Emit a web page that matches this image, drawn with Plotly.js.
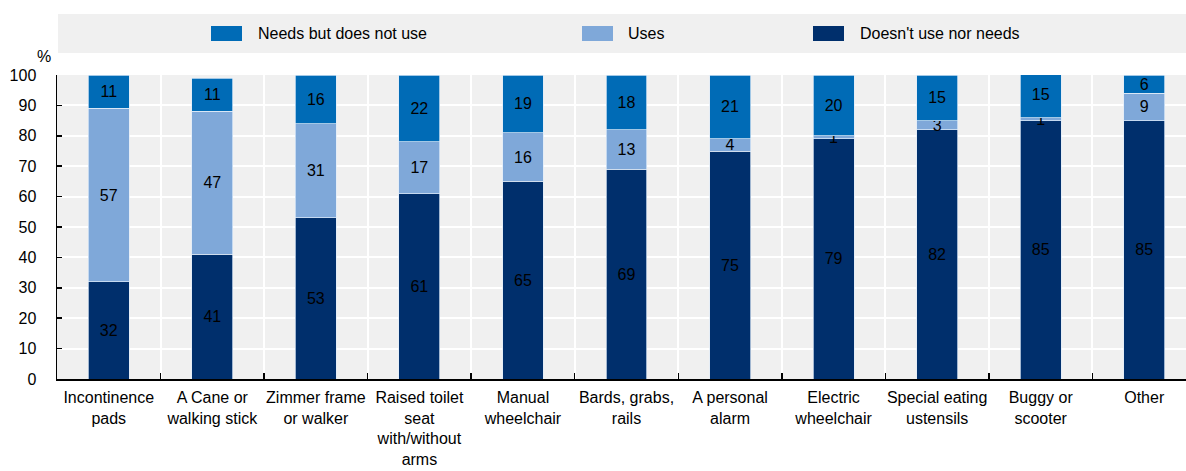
<!DOCTYPE html>
<html>
<head>
<meta charset="utf-8">
<script src="https://cdn.plot.ly/plotly-3.0.1.min.js"></script>
<style>
  html, body { margin: 0; padding: 0; background: #fff; overflow: hidden; }
  #chart { width: 1196px; height: 471px; }
</style>
</head>
<body>
<div id="chart"></div>
<script>
// Assistive devices: share of respondents (%)
const categories = [
  "Incontinence<br>pads",
  "A Cane or<br>walking stick",
  "Zimmer frame<br>or walker",
  "Raised toilet<br>seat<br>with/without<br>arms",
  "Manual<br>wheelchair",
  "Bards, grabs,<br>rails",
  "A personal<br>alarm",
  "Electric<br>wheelchair",
  "Special eating<br>ustensils",
  "Buggy or<br>scooter",
  "Other"
];
const doesntUseNorNeeds = [32, 41, 53, 61, 65, 69, 75, 79, 82, 85, 85];
const uses              = [57, 47, 31, 17, 16, 13, 4, 1, 3, 1, 9];
const needsNotUse       = [11, 11, 16, 22, 19, 18, 21, 20, 15, 15, 6];

const seriesNames = ["Needs but does not use", "Uses", "Doesn't use nor needs"];
const yTicks = [0, 10, 20, 30, 40, 50, 60, 70, 80, 90, 100];

const FONT = "'Liberation Sans', Arial, sans-serif";
const colors = {
  needs: "#006BB6",
  uses: "#7FA8D9",
  doesnt: "#002F6C",
  panel: "#F0F0F0"
};

// plot area geometry (px)
const W = 1196, H = 471;
const M = { l: 57, r: 0, t: 75, b: 92 };
const plotW = W - M.l - M.r, plotH = H - M.t - M.b;
const px2x = px => (px - M.l) / plotW;
const px2y = py => (H - M.b - py) / plotH;

function barTrace(name, values, color) {
  return {
    type: "bar",
    name: name,
    x: categories,
    y: values,
    text: values.map(String),
    texttemplate: "%{text}",
    textposition: "inside",
    insidetextanchor: "middle",
    textangle: 0,
    textfont: { family: FONT, size: 16, color: "#000" },
    marker: { color: color, line: { color: "rgba(225,235,248,0.9)", width: 0.8 } },
    hoverinfo: "x+y+name",
    showlegend: false
  };
}

const data = [
  barTrace(seriesNames[2], doesntUseNorNeeds, colors.doesnt),
  barTrace(seriesNames[1], uses, colors.uses),
  barTrace(seriesNames[0], needsNotUse, colors.needs)
];

// legend band drawn as shapes + text
const legendItems = [
  { name: seriesNames[0], color: colors.needs, sx: 211, tx: 256 },
  { name: seriesNames[1], color: colors.uses, sx: 582, tx: 626 },
  { name: seriesNames[2], color: colors.doesnt, sx: 813, tx: 858 }
];

const shapes = [
  {
    type: "rect", xref: "paper", yref: "paper", layer: "below",
    x0: px2x(58), x1: 1, y0: px2y(53), y1: px2y(14),
    fillcolor: colors.panel, line: { width: 0 }
  }
];
const annotations = [
  {
    xref: "paper", yref: "paper", x: px2x(44), y: px2y(56),
    xanchor: "center", yanchor: "middle", text: "%", showarrow: false,
    font: { family: FONT, size: 16, color: "#000" }
  }
];
legendItems.forEach(it => {
  shapes.push({
    type: "rect", xref: "paper", yref: "paper",
    x0: px2x(it.sx), x1: px2x(it.sx + 31), y0: px2y(41), y1: px2y(26),
    fillcolor: it.color, line: { width: 0 }
  });
  annotations.push({
    xref: "paper", yref: "paper", x: px2x(it.tx), y: px2y(33.5),
    xanchor: "left", yanchor: "middle", text: it.name, showarrow: false,
    font: { family: FONT, size: 16, color: "#000" }
  });
});

const layout = {
  width: W, height: H,
  margin: M,
  barmode: "stack",
  bargap: 0.605,
  paper_bgcolor: "#fff",
  plot_bgcolor: colors.panel,
  font: { family: FONT, size: 16, color: "#000" },
  uniformtext: { mode: "show", minsize: 16 },
  xaxis: {
    type: "category",
    tickson: "boundaries",
    tickangle: 0,
    ticks: "inside",
    ticklen: 6,
    tickwidth: 1.5,
    tickcolor: "#000",
    ticklabelstandoff: 3,
    showgrid: true,
    gridcolor: "#fff",
    gridwidth: 2,
    showline: true,
    linecolor: "#000",
    linewidth: 1.5,
    tickfont: { family: FONT, size: 16, color: "#000" },
    fixedrange: true
  },
  yaxis: {
    range: [0, 100],
    tickvals: yTicks,
    ticktext: yTicks.map(String),
    ticks: "inside",
    ticklen: 5,
    tickwidth: 1.5,
    tickcolor: "#000",
    ticklabelstandoff: 16,
    showgrid: true,
    gridcolor: "#fff",
    gridwidth: 2,
    zeroline: false,
    showline: true,
    linecolor: "#000",
    linewidth: 1.5,
    tickfont: { family: FONT, size: 16, color: "#000" },
    fixedrange: true
  },
  shapes: shapes,
  annotations: annotations
};

Plotly.newPlot("chart", data, layout, { displayModeBar: false, staticPlot: true });
</script>
</body>
</html>
